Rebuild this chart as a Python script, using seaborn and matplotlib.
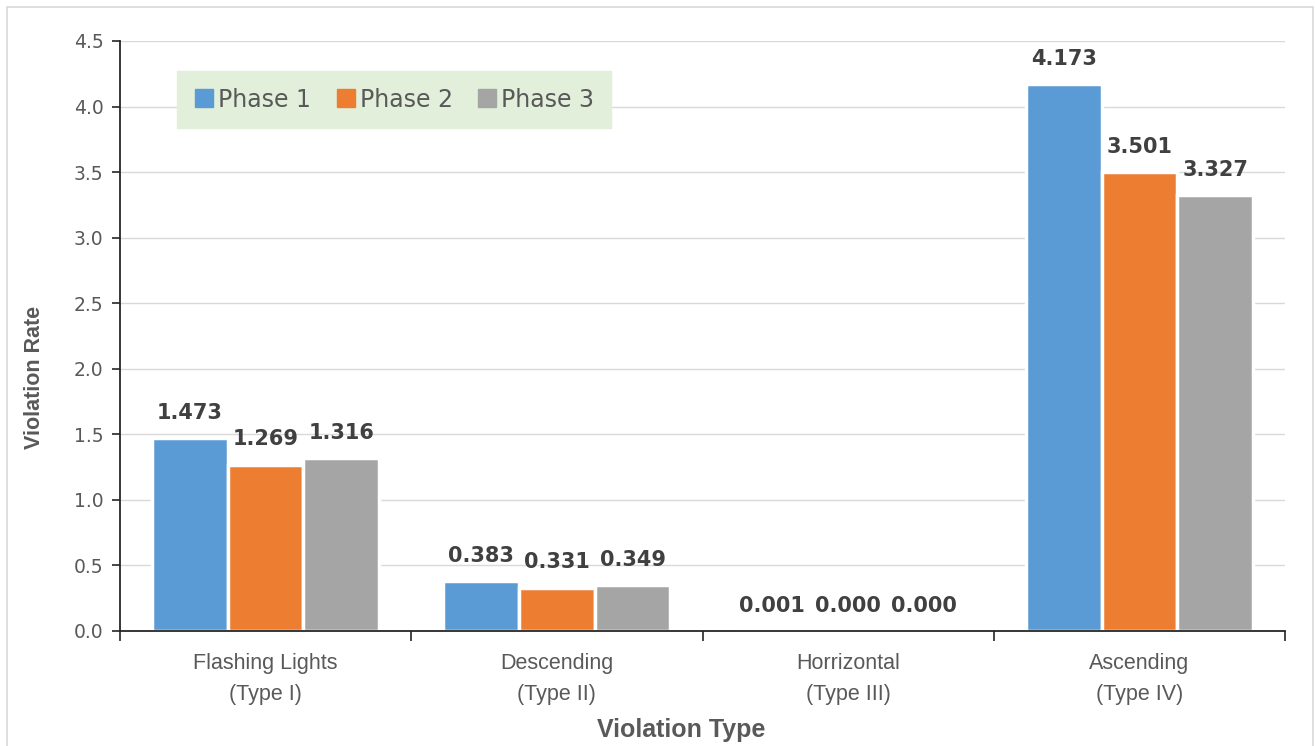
import pandas as pd
import seaborn as sns
import matplotlib.pyplot as plt
from matplotlib.lines import Line2D
from matplotlib.ticker import MultipleLocator, FixedLocator

# chart data
categories = ['Flashing Lights\n(Type I)', 'Descending\n(Type II)',
              'Horrizontal\n(Type III)', 'Ascending\n(Type IV)']
phases = ['Phase 1', 'Phase 2', 'Phase 3']
phase1 = [1.473, 0.383, 0.001, 4.173]
phase2 = [1.269, 0.331, 0.000, 3.501]
phase3 = [1.316, 0.349, 0.000, 3.327]

colors = ['#5B9BD5', '#ED7D31', '#A5A5A5']
text_gray = '#595959'

# long form table for seaborn
df = pd.DataFrame({
    'type': categories * 3,
    'phase': [p for p in phases for _ in categories],
    'rate': phase1 + phase2 + phase3,
})

sns.set_style('white')
plt.rcParams['font.family'] = ['DejaVu Sans']

fig = plt.figure(figsize=(13.15, 7.46), dpi=100)
ax = fig.add_axes([120 / 1315, 1 - 631 / 746, 1165 / 1315, 590 / 746])

sns.barplot(data=df, x='type', y='rate', hue='phase', order=categories,
            hue_order=phases, palette=colors, width=0.78, saturation=1,
            edgecolor='white', linewidth=2.5, ax=ax, legend=False)

# value labels on bars
for cont in ax.containers:
    ax.bar_label(cont, fmt='%.3f', padding=11, fontsize=15,
                 fontweight='bold', color='#404040')

ax.set_ylim(0, 4.5)
ax.set_xlim(-0.5, 3.5)
ax.yaxis.set_major_locator(MultipleLocator(0.5))
ax.yaxis.set_major_formatter(plt.FuncFormatter(lambda v, _: f'{v:.1f}'))
ax.grid(axis='y', color='#D9D9D9', linewidth=1)
ax.set_axisbelow(True)

for s in ['top', 'right']:
    ax.spines[s].set_visible(False)
for s in ['left', 'bottom']:
    ax.spines[s].set_color('#262626')
    ax.spines[s].set_linewidth(1.3)

ax.tick_params(axis='y', which='major', direction='out', length=6, width=1.2,
               color='#262626', labelsize=13.5, labelcolor=text_gray, pad=6, left=True)
ax.xaxis.set_minor_locator(FixedLocator([-0.5, 0.5, 1.5, 2.5, 3.5]))
ax.tick_params(axis='x', which='minor', direction='out', length=7, width=1.2,
               color='#262626', bottom=True)
ax.tick_params(axis='x', which='major', length=0, pad=16)
for lab in ax.get_xticklabels():
    lab.set_fontfamily(['Liberation Sans', 'DejaVu Sans'])
    lab.set_fontsize(15.5)
    lab.set_color(text_gray)
    lab.set_linespacing(1.6)

ax.set_xlabel('Violation Type', fontsize=18, fontweight='bold', color=text_gray,
              family=['Liberation Sans', 'DejaVu Sans'], va='center')
ax.xaxis.set_label_coords((681 - 120) / 1165, (631 - 730) / 590)
ax.set_ylabel('Violation Rate', fontsize=15.5, fontweight='bold', color=text_gray,
              family=['Liberation Sans', 'DejaVu Sans'], va='center')
ax.yaxis.set_label_coords((35 - 120) / 1165, (631 - 377) / 590)

# legend with square markers
handles = [Line2D([], [], marker='s', linestyle='none', markersize=13,
                  markerfacecolor=c, markeredgecolor=c) for c in colors]
leg = ax.legend(handles, phases, loc='upper left', bbox_to_anchor=(0.049, 0.949),
                borderaxespad=0, ncol=3, frameon=True, fancybox=False,
                fontsize=17, handlelength=0.9, handletextpad=0.15,
                columnspacing=1.0, borderpad=0.7)
leg.get_frame().set_facecolor('#E2EFDA')
leg.get_frame().set_edgecolor('#E2EFDA')
leg.get_frame().set_alpha(1)
for t in leg.get_texts():
    t.set_color(text_gray)

# thin chart border
for xs, ys in [([7, 7], [0, 739]), ([7, 1313], [739, 739]), ([1313, 1313], [0, 739])]:
    fig.add_artist(Line2D([x / 1315 for x in xs], [y / 746 for y in ys],
                          color='#D9D9D9', linewidth=1.2))

fig.savefig('out.png', dpi=100)
